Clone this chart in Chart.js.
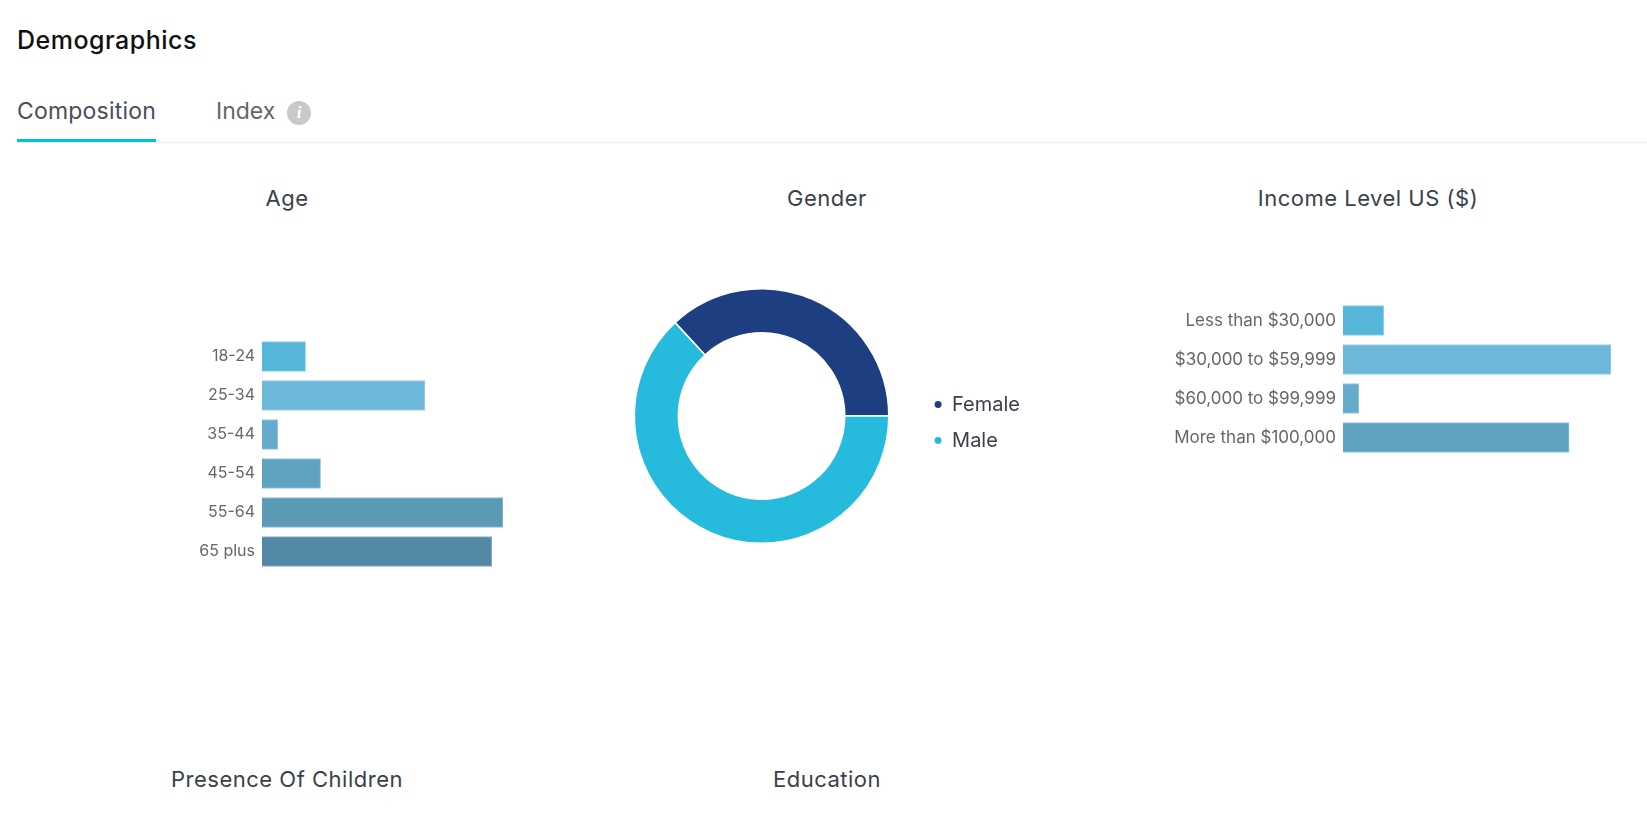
<!DOCTYPE html>
<html>
<head>
<meta charset="utf-8">
<title>Demographics</title>
<script src="https://cdn.jsdelivr.net/npm/chart.js@4"></script>
<style>
  html, body { margin: 0; padding: 0; background: #fff; }
  body { width: 1647px; height: 827px; position: relative; overflow: hidden; font-family: Inter, sans-serif; color: #3b3f4a; }
  .txt { position: absolute; white-space: nowrap; line-height: 1; }
  .title { font-size: 22px; font-weight: 400; letter-spacing: 0.5px; transform: translateX(-50%); }
  .box { position: absolute; }
  #heading { left: 17px; top: 28px; font-size: 25px; font-weight: 500; letter-spacing: 0.5px; color: #111; }
  #tab1 { left: 17px; top: 100px; font-size: 23px; font-weight: 400; letter-spacing: 0.2px; color: #4a4e59; }
  #tab2 { left: 216px; top: 100px; font-size: 23px; font-weight: 400; color: #666; }
  #info { position: absolute; left: 287px; top: 101px; width: 24px; height: 24px; border-radius: 50%; background: #c9c9c9; color: #fff; font: italic bold 17px/24px "Liberation Serif", serif; text-align: center; }
  #underline { position: absolute; left: 17px; top: 139px; width: 139px; height: 3px; background: #00bfe0; }
  #rule { position: absolute; left: 17px; right: 0; top: 142px; height: 1px; background: #eeeeee; }
</style>
</head>
<body>
<div class="txt" id="heading">Demographics</div>
<div class="txt" id="tab1">Composition</div>
<div class="txt" id="tab2">Index</div>
<div id="info">i</div>
<div id="rule"></div>
<div id="underline"></div>

<div class="txt title" style="left:287px;top:187px">Age</div>
<div class="txt title" style="left:827px;top:187px">Gender</div>
<div class="txt title" style="left:1368px;top:187px">Income Level US ($)</div>
<div class="txt title" style="left:287px;top:768px">Presence Of Children</div>
<div class="txt title" style="left:827px;top:768px">Education</div>

<div class="box" style="left:150px;top:337px;width:353px;height:234px"><canvas id="ageChart"></canvas></div>
<div class="box" style="left:590px;top:270px;width:440px;height:292px"><canvas id="genderChart"></canvas></div>
<div class="box" style="left:1143px;top:301px;width:468px;height:156px"><canvas id="incomeChart"></canvas></div>

<script>
const ageLabels = ["18-24", "25-34", "35-44", "45-54", "55-64", "65 plus"];
const ageValues = [5.8, 21.7, 2.1, 7.8, 32.1, 30.6];

const genderLabels = ["Female", "Male"];
const genderValues = [36.9, 63.1];

const incomeLabels = ["Less than $30,000", "$30,000 to $59,999", "$60,000 to $99,999", "More than $100,000"];
const incomeValues = [7.4, 48.7, 2.9, 41.1];

const barColors = ["#56b6d9", "#6db8d9", "#66abcb", "#60a3c0", "#5a9ab7", "#5389a6"];
const barBorders = ["#8fd0e8", "#9ad0e8", "#98cae0", "#94c4da", "#90bed4", "#8ab2c8"];
const genderColors = ["#1d3e81", "#26bbdc"];

// Bar chart horizontal, dipakai untuk Age dan Income
function makeBar(id, labels, values, axisWidth, tickSize) {
  const ctx = document.getElementById(id).getContext("2d");
  return new Chart(ctx, {
    type: "bar",
    data: {
      labels: labels,
      datasets: [
        {
          data: values,
          backgroundColor: barColors.slice(0, labels.length),
          borderColor: barBorders.slice(0, labels.length),
          borderWidth: 1,
          barThickness: 30,
        },
      ],
    },
    options: {
      indexAxis: "y",
      responsive: true,
      maintainAspectRatio: false,
      animation: false,
      layout: { padding: 0 },
      plugins: { legend: { display: false }, tooltip: { enabled: false } },
      scales: {
        x: { display: false, min: 0, max: Math.max(...values) },
        y: {
          border: { display: false },
          grid: { display: false, drawTicks: false },
          ticks: { color: "#666", padding: 7, font: { family: "Inter", size: tickSize } },
          afterFit: function (scale) {
            scale.width = axisWidth;
            // plot area harus penuh setinggi canvas
            scale.paddingTop = 0;
            scale.paddingBottom = 0;
          },
        },
      },
    },
  });
}

makeBar("ageChart", ageLabels, ageValues, 112, 16);
makeBar("incomeChart", incomeLabels, incomeValues, 200, 17);

// Doughnut chart Gender
const ctxGender = document.getElementById("genderChart").getContext("2d");
new Chart(ctxGender, {
  type: "doughnut",
  data: {
    labels: genderLabels,
    datasets: [
      {
        data: genderValues,
        backgroundColor: genderColors,
        borderColor: "#fff",
        borderWidth: 1.5,
      },
    ],
  },
  options: {
    responsive: true,
    maintainAspectRatio: false,
    animation: false,
    rotation: -42.8,
    cutout: "65.4%",
    layout: { padding: { left: 15, right: 0, top: 18, bottom: 18 } },
    plugins: {
      tooltip: { enabled: false },
      legend: {
        position: "right",
        title: { display: true, text: " ", font: { size: 1 }, padding: { top: 0, bottom: 12 } },
        labels: {
          usePointStyle: true,
          pointStyle: "circle",
          boxWidth: 8,
          boxHeight: 6,
          padding: 16,
          color: "#3b3f4a",
          font: { family: "Inter", size: 20 },
        },
      },
    },
  },
});
</script>
</body>
</html>
